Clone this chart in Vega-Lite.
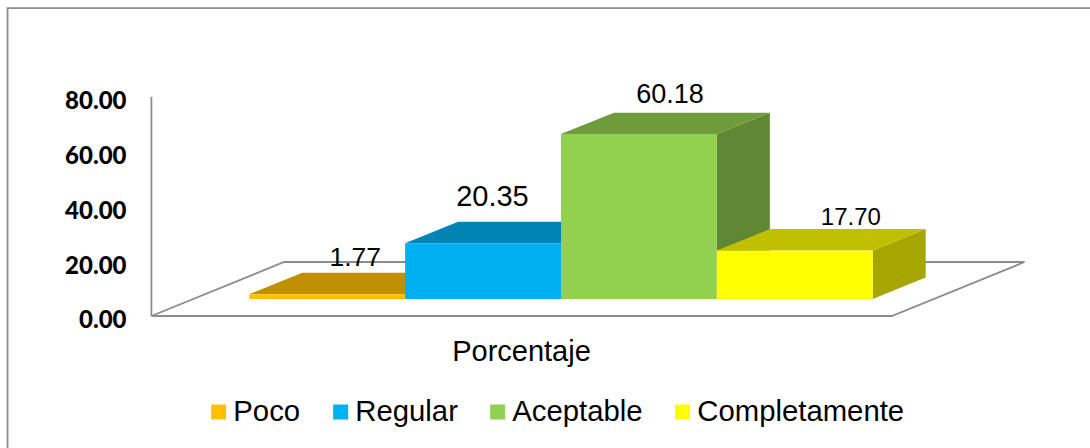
{
  "$schema": "https://vega.github.io/schema/vega-lite/v6.json",
  "width": 1090,
  "height": 448,
  "padding": 0,
  "autosize": "none",
  "background": "white",
  "config": {"view": {"stroke": null}},
  "datasets": {
    "bars": [
      {"category": "Poco", "value": 1.77},
      {"category": "Regular", "value": 20.35},
      {"category": "Aceptable", "value": 60.18},
      {"category": "Completamente", "value": 17.7}
    ],
    "outlines": [
      {"part": "frame", "step": 1, "px": -1.551, "py": -48.18},
      {"part": "frame", "step": 2, "px": -1.551, "py": 112.4},
      {"part": "frame", "step": 3, "px": 5.397, "py": 112.4},
      {"part": "floor", "step": 1, "px": -0.628, "py": 0},
      {"part": "floor", "step": 2, "px": 4.122, "py": 0},
      {"part": "floor", "step": 3, "px": 4.974, "py": 19.7},
      {"part": "floor", "step": 4, "px": 0.224, "py": 19.7},
      {"part": "floor", "step": 5, "px": -0.628, "py": 0},
      {"part": "wall", "step": 1, "px": -0.628, "py": 0},
      {"part": "wall", "step": 2, "px": -0.628, "py": 80}
    ]
  },
  "data": {"name": "bars"},
  "transform": [
    {"calculate": "indexof(['Poco','Regular','Aceptable','Completamente'], datum.category)", "as": "slot"},
    {"calculate": "6.2", "as": "floor"},
    {"calculate": "datum.floor + datum.value", "as": "top"}
  ],
  "layer": [
    {
      "data": {"name": "outlines"},
      "transform": [],
      "mark": {"type": "line", "strokeWidth": 1.8, "color": "#8c8c8c", "clip": true},
      "encoding": {
        "x": {"field": "px", "type": "quantitative", "scale": {"domain": [-1.5994, 5.3942], "nice": false, "zero": false}, "axis": {"title": "Porcentaje", "titleFont": "Liberation Sans", "titleFontSize": 29, "titleFontWeight": "normal", "titleColor": "#000000", "titleX": 521, "titleY": -97, "titleBaseline": "middle", "labels": false, "ticks": false, "domain": false, "grid": false}},
        "y": {"field": "py", "type": "quantitative", "scale": {"domain": [-48.18, 115.33], "nice": false, "zero": false}, "axis": {"title": null, "values": [0, 20, 40, 60, 80], "format": ".2f", "offset": -126, "labelPadding": 0, "labelOffset": 5, "labelFont": "Lato", "labelFontWeight": 900, "labelFontSize": 24, "labelColor": "#000000", "ticks": false, "domain": false, "grid": false}},
        "detail": {"field": "part"},
        "order": {"field": "step"}
      }
    },
    {
      "transform": [
        {"calculate": "[0, 1]", "as": "d"},
        {"flatten": ["d"]},
        {"calculate": "datum.slot + 1 + 0.34 * datum.d", "as": "sx"},
        {"calculate": "datum.top + 7.81 * datum.d", "as": "sy"},
        {"calculate": "datum.floor + 7.81 * datum.d", "as": "sy2"}
      ],
      "mark": {"type": "area", "clip": true},
      "encoding": {
        "x": {"field": "sx", "type": "quantitative"},
        "y": {"field": "sy", "type": "quantitative", "stack": null},
        "y2": {"field": "sy2"},
        "color": {"field": "category", "type": "nominal", "legend": null, "scale": {"domain": ["Poco", "Regular", "Aceptable", "Completamente"], "range": ["#A67D00", "#007299", "#5F8734", "#A6A600"]}}
      }
    },
    {
      "transform": [
        {"calculate": "[0, 1]", "as": "d"},
        {"flatten": ["d"]},
        {"calculate": "datum.slot + 0.34 * datum.d", "as": "tx"},
        {"calculate": "datum.slot + 1 + 0.34 * datum.d", "as": "tx2"},
        {"calculate": "datum.top + 7.81 * datum.d", "as": "ty"}
      ],
      "mark": {"type": "area", "orient": "horizontal", "clip": true},
      "encoding": {
        "y": {"field": "ty", "type": "quantitative"},
        "x": {"field": "tx", "type": "quantitative", "stack": null},
        "x2": {"field": "tx2"},
        "color": {"field": "category", "type": "nominal", "legend": null, "scale": {"domain": ["Poco", "Regular", "Aceptable", "Completamente"], "range": ["#C09000", "#0084B4", "#6E9C3C", "#C0C000"]}}
      }
    },
    {
      "transform": [
        {"calculate": "datum.slot + 1", "as": "right"}
      ],
      "mark": {"type": "rect", "clip": true},
      "encoding": {
        "x": {"field": "slot", "type": "quantitative"},
        "x2": {"field": "right"},
        "y": {"field": "top", "type": "quantitative"},
        "y2": {"field": "floor"},
        "color": {
          "field": "category",
          "type": "nominal",
          "scale": {"domain": ["Poco", "Regular", "Aceptable", "Completamente"], "range": ["#FFC000", "#00B0F0", "#92D050", "#FFFF00"]},
          "legend": {"title": null, "orient": "none", "legendX": 204, "legendY": 395, "padding": 0, "direction": "horizontal", "columns": 4, "gridAlign": "none", "columnPadding": 25, "symbolType": "square", "symbolSize": 225, "symbolStrokeWidth": 0, "symbolOpacity": 1, "labelFont": "Liberation Sans", "labelFontSize": 29.3, "labelColor": "#000000", "labelOffset": 0, "labelLimit": 400, "clipHeight": 34}
        }
      }
    },
    {
      "transform": [
        {"calculate": "{'Poco': 0.68, 'Regular': 0.56, 'Aceptable': 0.70, 'Completamente': 0.86}[datum.category]", "as": "shift"},
        {"calculate": "{'Poco': 5.4, 'Regular': 9.15, 'Aceptable': 6.6, 'Completamente': 4.05}[datum.category]", "as": "lift"},
        {"calculate": "{'Poco': 26.5, 'Regular': 29, 'Aceptable': 27, 'Completamente': 24}[datum.category]", "as": "labelSize"},
        {"calculate": "datum.slot + datum.shift", "as": "lx"},
        {"calculate": "datum.top + 7.81 + datum.lift", "as": "ly"}
      ],
      "mark": {"type": "text", "font": "Liberation Sans", "color": "#000000", "baseline": "middle", "align": "center"},
      "encoding": {
        "x": {"field": "lx", "type": "quantitative"},
        "y": {"field": "ly", "type": "quantitative"},
        "text": {"field": "value", "type": "quantitative", "format": ".2f"},
        "size": {"field": "labelSize", "type": "quantitative", "scale": null}
      }
    }
  ],
  "resolve": {"scale": {"color": "independent"}}
}
